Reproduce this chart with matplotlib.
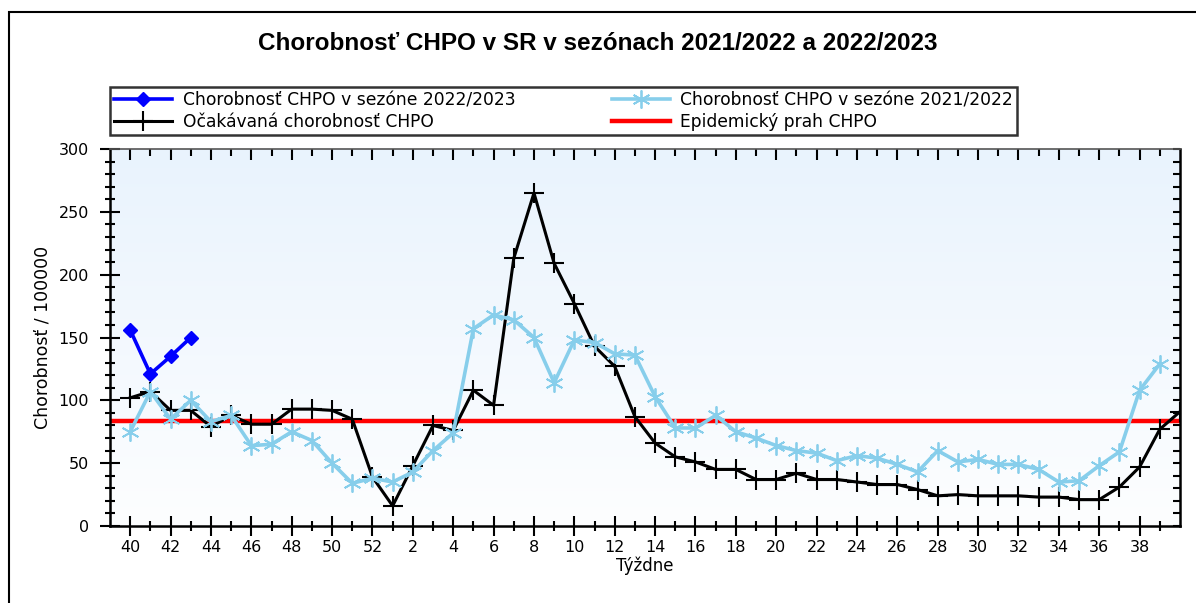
import numpy as np
import matplotlib.pyplot as plt
from matplotlib.patches import Rectangle
from matplotlib.ticker import MultipleLocator, FixedLocator, NullFormatter
from matplotlib.colors import LinearSegmentedColormap

# weeks of the season (40..52, 1..39) plus week 40 of the next season
weeks = list(range(40, 53)) + list(range(1, 40)) + [40]

# values
season_2223 = [156, 121, 135, 150]
season_2122 = [75, 107, 85, 100, 83, 88, 64, 65, 75, 68, 50, 34, 38,
               35, 43, 60, 74, 157, 168, 164, 150, 114, 148, 146, 137, 136,
               103, 78, 78, 88, 75, 70, 64, 60, 58, 52, 56, 54, 49, 43,
               60, 51, 53, 49, 49, 45, 35, 36, 48, 59, 108, 129]
expected = [102, 107, 92, 92, 79, 88, 81, 81, 93, 93, 92, 85, 39,
            16, 48, 80, 76, 108, 96, 213, 265, 209, 177, 143, 127, 87,
            66, 55, 51, 45, 45, 37, 37, 42, 37, 37, 35, 33, 33, 29,
            24, 25, 24, 24, 24, 23, 23, 21, 21, 31, 47, 77, 91]
threshold = 83.4

plt.rcParams['font.family'] = ['DejaVu Sans']
fig = plt.figure(figsize=(11.96, 6.03), dpi=100)

# outer frame (only top and left visible)
fig.patches.append(Rectangle((9 / 1196, -0.1), 1.2, 1 - 12 / 603 + 0.1,
                             transform=fig.transFigure, fill=False,
                             edgecolor='black', linewidth=1.5))

ax = fig.add_axes([110 / 1196, 77 / 603, 1070 / 1196, 377 / 603])

# light blue gradient background
grad = np.linspace(0, 1, 256).reshape(-1, 1)
cmap = LinearSegmentedColormap.from_list('bg', ['#e9f3fd', '#fdfeff'])
ax.imshow(grad, aspect='auto', cmap=cmap, extent=[0, 1, 0, 1],
          transform=ax.transAxes, zorder=0)

x_all = np.arange(len(weeks))

ax.axhline(threshold, color='#ff0000', linewidth=3.2, zorder=2,
           label='Epidemický prah CHPO')
ax.plot(x_all, expected, color='black', linewidth=2.2, marker='+',
        markersize=14, markeredgewidth=1.5, zorder=3,
        label='Očakávaná chorobnosť CHPO')
ax.plot(x_all[:len(season_2122)], season_2122, color='#87ceeb', linewidth=2.6,
        marker=(6, 2, 0), markersize=13, markeredgewidth=1.3, zorder=4,
        label='Chorobnosť CHPO v sezóne 2021/2022')
ax.plot(x_all[:len(season_2223)], season_2223, color='#0000ff', linewidth=2.6,
        marker='D', markersize=7, zorder=5,
        label='Chorobnosť CHPO v sezóne 2022/2023')

ax.set_xlim(-1, 52)
ax.set_ylim(0, 300)

major_idx = [i for i, w in enumerate(weeks[:52]) if w % 2 == 0]
minor_idx = [i for i, w in enumerate(weeks[:52]) if w % 2 == 1]
ax.xaxis.set_major_locator(FixedLocator(major_idx))
ax.xaxis.set_minor_locator(FixedLocator(minor_idx))
ax.set_xticklabels([str(weeks[i]) for i in major_idx])
ax.yaxis.set_major_locator(MultipleLocator(50))
ax.yaxis.set_minor_locator(MultipleLocator(10))

ax.tick_params(axis='both', which='major', direction='inout', length=14,
               width=1.5, labelsize=11.5, top=False, right=False)
ax.tick_params(axis='both', which='minor', direction='inout', length=7,
               width=1.5, top=False, right=False)
ax.tick_params(axis='x', which='major', pad=3)
ax.tick_params(axis='y', which='major', pad=8)
for s in ax.spines.values():
    s.set_linewidth(1.8)
    s.set_zorder(6)
ax.spines['top'].set_linewidth(1.2)
ax.spines['top'].set_color('#555555')

# top ticks: every week, pointing inward
top = ax.secondary_xaxis('top')
top.xaxis.set_major_locator(FixedLocator(major_idx))
top.xaxis.set_minor_locator(FixedLocator(minor_idx))
top.xaxis.set_major_formatter(NullFormatter())
top.tick_params(which='major', direction='in', length=8, width=1.5)
top.tick_params(which='minor', direction='in', length=5, width=1.5)
top.spines['top'].set_visible(False)

# right ticks: every 10, pointing inward
right = ax.secondary_yaxis('right')
right.yaxis.set_major_locator(MultipleLocator(10))
right.yaxis.set_major_formatter(NullFormatter())
right.tick_params(which='major', direction='in', length=5, width=1.5)
right.spines['right'].set_visible(False)

ax.set_xlabel('Týždne', fontsize=12, labelpad=1)
ax.set_ylabel('Chorobnosť / 100000', fontsize=12.5, labelpad=5)

fig.text(0.5, 1 - 44 / 603, 'Chorobnosť CHPO v SR v sezónach 2021/2022 a 2022/2023',
         ha='center', va='center', fontsize=17.5, fontweight='bold',
         family='Liberation Sans')

h, l = ax.get_legend_handles_labels()
order = [3, 1, 2, 0]
leg = fig.legend([h[i] for i in order], [l[i] for i in order], ncol=2,
                 loc='upper left', mode='expand',
                 bbox_to_anchor=(110 / 1196, 1 - 138 / 603, 907 / 1196, 51 / 603),
                 prop={'family': 'DejaVu Sans', 'size': 12.3},
                 frameon=True, fancybox=False,
                 edgecolor='black', handlelength=3.4, handletextpad=0.6,
                 columnspacing=1.4, borderpad=0.25, labelspacing=0.2,
                 borderaxespad=0)
leg.get_frame().set_linewidth(1.8)

fig.savefig('out.png', dpi=100, facecolor='white')
